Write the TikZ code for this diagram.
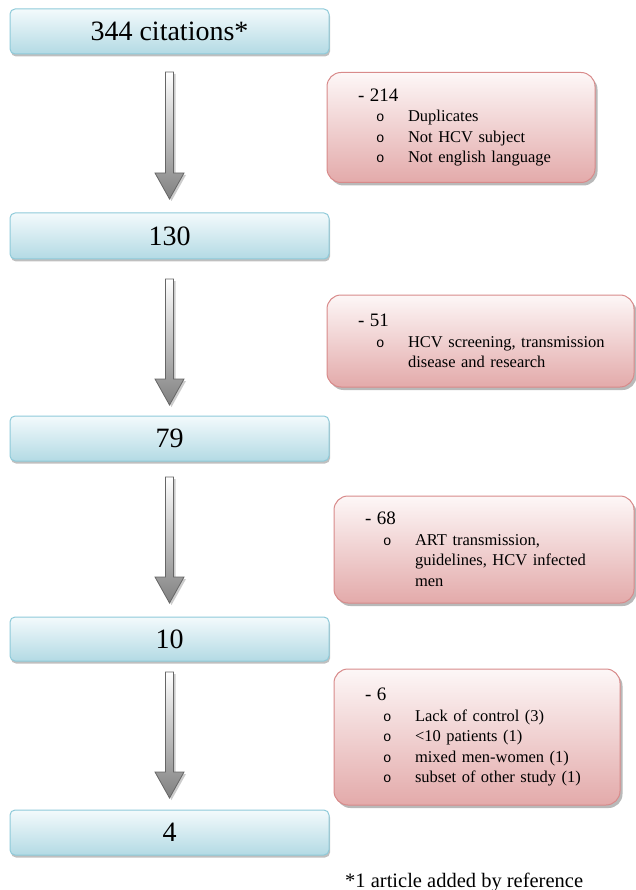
\documentclass[tikz,border=0pt]{standalone}
\usepackage{fontspec}
\setmainfont{Liberation Serif}
\setmonofont{Liberation Mono}
\usetikzlibrary{calc,shadows}
\definecolor{boxtop}{HTML}{F3FAFC}
\definecolor{boxbot}{HTML}{B3DAE4}
\definecolor{boxline}{HTML}{8ECAD9}
\definecolor{cuttop}{HTML}{FDF7F7}
\definecolor{cutbot}{HTML}{E3AAAA}
\definecolor{cutline}{HTML}{D88A8A}
\tikzset{
	stagebox/.style={draw=boxline, line width=1pt, rounded corners=5pt,
		top color=boxtop, bottom color=boxbot, minimum width=319pt,
		inner sep=0pt, outer sep=0pt, font=\fontsize{28}{32}\selectfont,
		drop shadow={shadow xshift=1pt, shadow yshift=-2.5pt, fill=black!50, opacity=.5}},
	cutbox/.style={draw=cutline, line width=1pt, rounded corners=14pt,
		top color=cuttop, bottom color=cutbot, inner xsep=31pt, inner ysep=0pt,
		outer sep=0pt, align=left, font=\fontsize{16.5}{20.5}\selectfont,
		drop shadow={shadow xshift=2.5pt, shadow yshift=-3pt, fill=black!55, opacity=.5}},
	downarrow/.style={draw=black!60, line width=.8pt, top color=white, bottom color=black!50,
		drop shadow={shadow xshift=2pt, shadow yshift=-2pt, fill=black!40, opacity=.5}}
}
\newcommand{\cuthead}[1]{{\fontsize{19}{20.5}\selectfont - #1}}
\newcommand{\cutitem}[1]{\mbox{\hspace*{18pt}\makebox[32pt][l]{\ttfamily\fontsize{14}{14}\selectfont o}#1}}
\newcommand{\cutmore}[1]{\mbox{\hspace*{50pt}#1}}
\begin{document}
\begin{tikzpicture}[x=1pt,y=-1pt]
	\useasboundingbox (0,0) rectangle (635,890);

	% stages
	\node[stagebox, minimum height=45pt] (n344) at (169.5,31.5) {344 citations*};
	\node[stagebox, minimum height=46pt] (n130) at (169.5,236) {130};
	\node[stagebox, minimum height=45pt] (n79) at (169.5,438.5) {79};
	\node[stagebox, minimum height=44pt] (n10) at (169.5,639) {10};
	\node[stagebox, minimum height=45pt] (n4) at (169.5,832.5) {4};

	% excluded
	\node[cutbox, minimum width=268pt, minimum height=110pt, text width=206pt] (x214) at (461,127.5){
		\cuthead{214}\\
		\cutitem{Duplicates}\\
		\cutitem{Not HCV subject}\\
		\cutitem{Not english language}};
	\node[cutbox, minimum width=307pt, minimum height=92pt, text width=245pt] (x51) at (480.5,341){
		\cuthead{51}\\
		\cutitem{HCV screening, transmission}\\
		\cutmore{disease and research}};
	\node[cutbox, minimum width=300pt, minimum height=107pt, text width=238pt] (x68) at (484,549.5){
		\cuthead{68}\\
		\cutitem{ART transmission,}\\
		\cutmore{guidelines, HCV infected}\\
		\cutmore{men}};
	\node[cutbox, minimum width=286pt, minimum height=136pt, text width=224pt] (x6) at (477,737){
		\cuthead{6}\\
		\cutitem{Lack of control (3)}\\
		\cutitem{<10 patients (1)}\\
		\cutitem{mixed men-women (1)}\\
		\cutitem{subset of other study (1)}};

	% arrows
	\foreach \a/\b/\s/\e in {n344/n130/18/14, n130/n79/20/11, n79/n10/16/14, n10/n4/11/12}
		\draw[downarrow] ($(\a.south)+(-4,\s)$) -- ($(\a.south)+(4,\s)$)
			-- ($(\b.north)+(4,-\e-26)$) -- ($(\b.north)+(14.5,-\e-26)$)
			-- ($(\b.north)+(0,-\e)$) -- ($(\b.north)+(-14.5,-\e-26)$)
			-- ($(\b.north)+(-4,-\e-26)$) -- cycle;

	\node[anchor=base west, inner sep=0pt, font=\fontsize{20.5}{24}\selectfont] (note) at (345,887) {*1 article added by reference};
\end{tikzpicture}
\end{document}
